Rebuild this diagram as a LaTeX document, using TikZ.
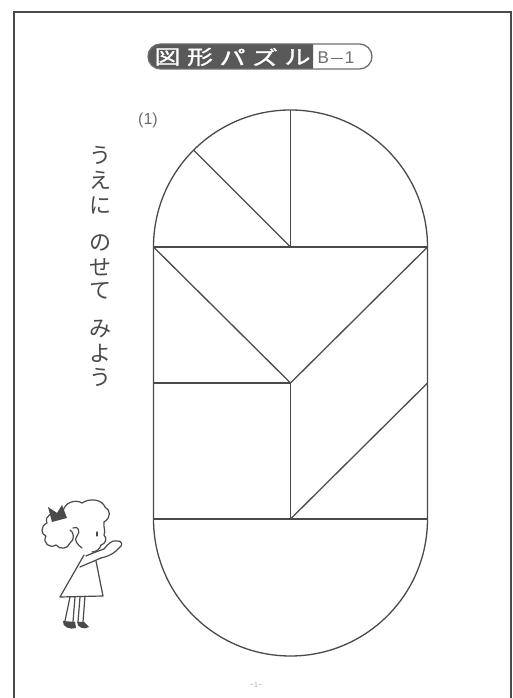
\documentclass[tikz,border=0pt]{standalone}
\usepackage{fontspec}
\setmainfont{Liberation Sans}
\newfontfamily\jpfont{Noto Sans CJK JP}
\newfontfamily\jpheavy[FakeBold=1.2]{Noto Sans CJK JP}

\definecolor{inkgray}{HTML}{4A4A4A}
\definecolor{softgray}{HTML}{6E6E6E}
\definecolor{pilldark}{HTML}{595959}

\begin{document}
\begin{tikzpicture}[x=1pt, y=1pt,
    piece/.style={draw=inkgray, line width=1.3pt, line join=round},
    kana/.style={inner sep=0pt, text=inkgray, font=\jpfont\fontsize{22}{22}\selectfont},
    titlechar/.style={inner sep=0pt, text=white, font=\jpheavy\fontsize{20}{20}\selectfont},
    sketch/.style={draw=inkgray, line width=1.2pt, line join=round, line cap=round}]
\useasboundingbox (0,0) rectangle (513,698);

% page frame, open at the bottom
\draw[inkgray, line width=1.5pt] (14,0) -- (14,686) -- (511,686) -- (511,0);

% title bar
\fill[pilldark] (313,629) -- (160.5,629) arc (270:90:12.5) -- (313,654) -- cycle;
\draw[softgray, line width=1.3pt] (160.5,629) arc (270:90:12.5) -- (359.5,654)
    arc (90:-90:12.5) -- cycle;
\foreach \ch [count=\i] in {図,形,パ,ズ,ル} {
    \node[titlechar] (title\i) at (135+32.5*\i,641) {\scalebox{1.3}[1]{\ch}};
}
\node[inner sep=0pt, text=softgray, font=\fontsize{17}{17}\selectfont] (level) at (336,640)
    {B\kern2pt\rule[4.6pt]{12pt}{1.3pt}\kern2pt1};

% question number
\node[inner sep=0pt, text=softgray, font=\fontsize{16}{16}\selectfont] (qnum) at (148,578) {(1)};

% instruction, written top to bottom
\foreach \ch/\y [count=\i] in {う/543, え/518, に/492, の/455, せ/431, て/407, み/369, よ/345, う/321} {
    \node[kana] (word\i) at (100.5,\y) {\ch};
}

% puzzle outline and cuts
\coordinate (tl) at (153.5,451);
\coordinate (tr) at (427.5,451);
\coordinate (tm) at (290.5,451);
\coordinate (ml) at (153.5,315);
\coordinate (mm) at (290.5,315);
\coordinate (mr) at (427.5,315);
\coordinate (bl) at (153.5,179);
\coordinate (bm) at (290.5,179);
\coordinate (br) at (427.5,179);

\draw[piece] (bl) -- (tl) arc (180:0:137) -- (br) arc (0:-180:137) -- cycle;
\draw[piece] (tl) -- (tr);
\draw[piece] (tm) -- ++(90:137);
\draw[piece] (tm) -- ++(135:137);
\draw[piece] (tl) -- (mm) -- (tr);
\draw[piece] (ml) -- (mm) -- (bm);
\draw[piece] (bm) -- (mr);
\draw[piece] (bl) -- (br);

% little girl pointing at the puzzle
\begin{scope}[shift={(0,698)}, yscale=-1]
    % ribbon
    \fill[inkgray] (52,522) -- (48,507) -- (57,513) -- (62,505) -- (67,518) -- cycle;
    % side puff of hair
    \draw[sketch] (60,516) .. controls (52,511) and (44,516) .. (47,523)
        .. controls (40,526) and (41,535) .. (46,536)
        .. controls (42,543) and (50,549) .. (56,545)
        .. controls (60,550) and (68,549) .. (70,543)
        .. controls (75,540) and (74,532) .. (70,530);
    % top of hair
    \draw[sketch] (63,512) .. controls (64,502) and (76,499) .. (82,503)
        .. controls (89,498) and (102,499) .. (105,507)
        .. controls (111,510) and (111,518) .. (104,522);
    % face profile
    \draw[sketch] (104,522) .. controls (103,527) and (106,531) .. (104,535)
        .. controls (108,539) and (105,544) .. (101,545)
        .. controls (100,549) and (96,552) .. (92,552);
    % curl over the cheek
    \draw[sketch] (73,528) .. controls (78,525) and (81,532) .. (77,536)
        .. controls (73,540) and (78,545) .. (82,548);
    \draw[sketch] (97,532) -- (97,536);
    % dress
    \draw[sketch] (84,555) -- (60,597) -- (103,596) -- (96,561);
    % arms and hand
    \draw[sketch] (86,556) .. controls (93,553) .. (104,549);
    \draw[sketch] (80,567) .. controls (90,563) .. (101,558);
    \draw[sketch] (104,549) .. controls (108,544) and (112,540) .. (116,541)
        .. controls (122,540) and (124,545) .. (119,548)
        .. controls (116,552) and (110,556) .. (101,558);
    % legs
    \draw[sketch] (70,597) -- (65,621);
    \draw[sketch] (75,597) -- (73,622);
    \draw[sketch] (80,597) -- (78,622);
    \draw[sketch] (85,596) -- (83,622);
    % shoes
    \fill[inkgray] (63,621) .. controls (62,627) and (70,630) .. (76,628) -- (75,622) -- cycle;
    \fill[inkgray] (77,622) .. controls (77,628) and (85,630) .. (89,627) -- (84,622) -- cycle;
\end{scope}

% page number
\node[inner sep=0pt, text=black!35, font=\fontsize{7}{7}\selectfont] (page) at (256,13) {−1−};
\end{tikzpicture}
\end{document}
